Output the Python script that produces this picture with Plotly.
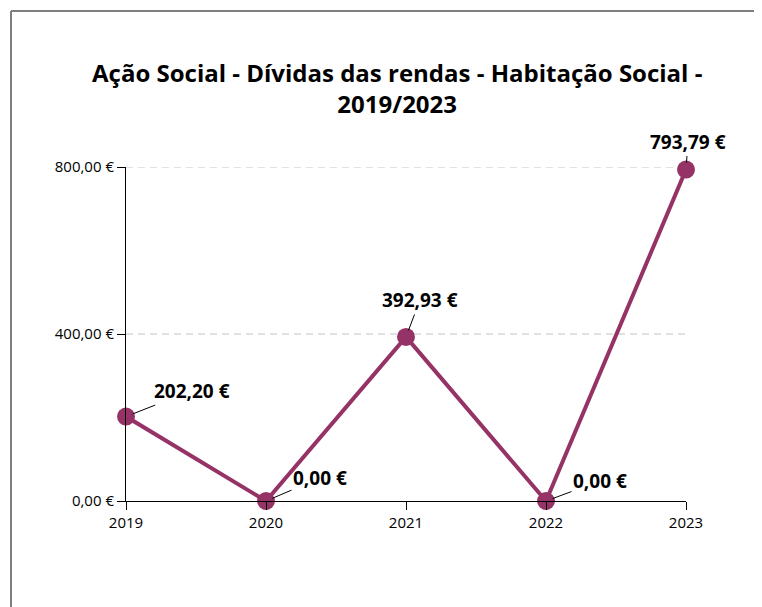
import plotly.graph_objects as go

years = [2019, 2020, 2021, 2022, 2023]
values = [202.20, 0.00, 392.93, 0.00, 793.79]
value_labels = ["202,20 €", "0,00 €", "392,93 €", "0,00 €", "793,79 €"]
y_tickvals = [0, 400, 800]
y_ticktext = ["0,00 €", "400,00 €", "800,00 €"]
title_text = "Ação Social - Dívidas das rendas - Habitação Social -<br>2019/2023"

color = "#963366"
FONT = "Open Sans, Noto Sans, sans-serif"
label_offsets = [(66, -26), (54, -23), (14, -37), (54, -20), (2, -28)]

# page has an 8px body margin; compensate so plot lands at window coords
OFF = 8
L, R, T, B = 126 - OFF, 76, 167 - OFF, 106
W, H = 762 - OFF, 607 - OFF
pw, ph = W - L - R, H - T - B

def px(xw):
    return (xw - OFF - L) / pw

def py(yw):
    return (H - B - (yw - OFF)) / ph

fig = go.Figure()

# dashed horizontal gridlines at the non-zero y ticks
for v in y_tickvals[1:]:
    fig.add_shape(type="line", xref="x domain", yref="y", x0=0, x1=1, y0=v, y1=v,
                  line=dict(color="#c4c4c4", width=1, dash="7px,5px"), layer="below")

fig.add_trace(go.Scatter(
    x=years, y=values, mode="lines+markers",
    line=dict(color=color, width=4),
    marker=dict(color=color, size=18),
    cliponaxis=False, hoverinfo="skip", showlegend=False,
))

for x, y, t, (ax, ay) in zip(years, values, value_labels, label_offsets):
    fig.add_annotation(
        x=x, y=y, text="<b>%s</b>" % t, showarrow=True,
        arrowhead=0, arrowwidth=1, arrowcolor="black",
        ax=ax, ay=ay, standoff=7,
        font=dict(family=FONT, size=19, color="black"),
    )

fig.add_annotation(
    x=px(397), y=py(88), xref="paper", yref="paper", showarrow=False,
    xanchor="center", yanchor="middle",
    text="<b>%s</b>" % title_text, align="center",
    font=dict(family=FONT, size=24, color="black"),
)

# outer chart border (left and top)
fig.add_shape(type="line", xref="paper", yref="paper",
              x0=px(11), x1=px(11), y0=py(11), y1=py(640),
              line=dict(color="#7f7f7f", width=2))
fig.add_shape(type="line", xref="paper", yref="paper",
              x0=px(11), x1=px(800), y0=py(11), y1=py(11),
              line=dict(color="#7f7f7f", width=2))

fig.update_layout(
    width=W, height=H,
    margin=dict(l=L, r=R, t=T, b=B),
    paper_bgcolor="white", plot_bgcolor="white",
    font=dict(family=FONT, color="black"),
    xaxis=dict(
        range=[2019, 2023], tickvals=years, ticktext=[str(y) for y in years],
        showgrid=False, zeroline=False, showline=True, linecolor="black", linewidth=1,
        ticks="outside", ticklen=8, tickcolor="black",
        tickfont=dict(size=15, family=FONT),
    ),
    yaxis=dict(
        range=[0, 800], tickvals=y_tickvals, ticktext=y_ticktext,
        showgrid=False, zeroline=False, showline=True, linecolor="black", linewidth=1,
        ticks="outside", ticklen=8, tickcolor="black",
        tickfont=dict(size=15, family=FONT),
    ),
)

fig.write_html("out.html")
